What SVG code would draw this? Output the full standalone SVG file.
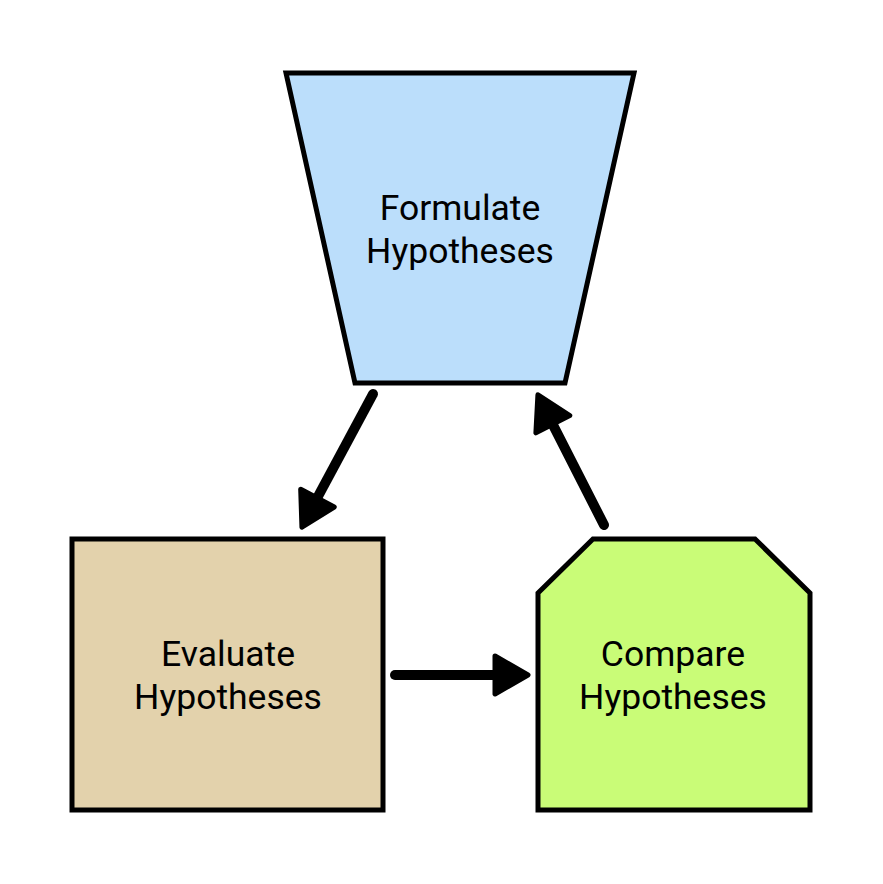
<svg xmlns="http://www.w3.org/2000/svg" xmlns:xlink="http://www.w3.org/1999/xlink" width="883" height="884" viewBox="0 0 883 884">
<style>
.node{stroke:#000;stroke-width:5;stroke-linejoin:miter}
.lbl{font-family:Roboto,"Liberation Sans",sans-serif;font-size:35.5px;fill:#000;text-anchor:middle}
.conn{stroke:#000;stroke-width:10;stroke-linecap:round;fill:none}
.head{fill:#000;stroke:#000;stroke-width:5;stroke-linejoin:round}
</style>
<defs>
<path id="head" d="M-35,-19 L-2,0 L-35,19 Z"/>
</defs>
<rect width="883" height="884" fill="#fff"/>
<g id="formulate">
<polygon class="node" points="286,73 634,73 565,383 355,383" fill="#bbdefb"/>
<text class="lbl" x="460" y="220">Formulate</text>
<text class="lbl" x="460" y="263">Hypotheses</text>
</g>
<g id="evaluate">
<rect class="node" x="72" y="539" width="311" height="271" fill="#e3d2ac"/>
<text class="lbl" x="228" y="666">Evaluate</text>
<text class="lbl" x="228" y="709">Hypotheses</text>
</g>
<g id="compare">
<polygon class="node" points="593,539 755,539 810,593 810,810 538,810 538,593" fill="#c9fc77"/>
<text class="lbl" x="673" y="666">Compare</text>
<text class="lbl" x="673" y="709">Hypotheses</text>
</g>
<g id="connectors">
<line class="conn" x1="373" y1="394" x2="315" y2="502"/>
<use href="#head" class="head" transform="translate(301,529) rotate(118.05)"/>
<line class="conn" x1="604" y1="525" x2="551" y2="421"/>
<use href="#head" class="head" transform="translate(537,393) rotate(-116.9)"/>
<line class="conn" x1="395" y1="675" x2="500" y2="675"/>
<use href="#head" class="head" transform="translate(530,675)"/>
</g>
</svg>
